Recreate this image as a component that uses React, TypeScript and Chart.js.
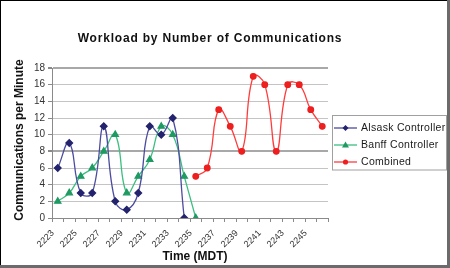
import React, { useEffect, useRef } from "react";
import { Chart, registerables } from "chart.js";

Chart.register(...registerables);

const categories = [
  "2223", "2224", "2225", "2226", "2227", "2228", "2229", "2230",
  "2231", "2232", "2233", "2234", "2235", "2236", "2237", "2238",
  "2239", "2240", "2241", "2242", "2243", "2244", "2245", "2246",
];
const alsask = [6, 9, 3, 3, 11, 2, 1, 3, 11, 10, 12, 0, null, null, null, null, null, null, null, null, null, null, null, null];
const banff = [2, 3, 5, 6, 8, 10, 3, 5, 7, 11, 10, 5, 0, null, null, null, null, null, null, null, null, null, null, null];
const combined = [null, null, null, null, null, null, null, null, null, null, null, null, 5, 6, 13, 11, 8, 17, 16, 8, 16, 16, 13, 11];
const seriesNames = ["Alsask Controller", "Banff Controller", "Combined"];
const yTicks = [0, 2, 4, 6, 8, 10, 12, 14, 16, 18];
const titleText = "Workload by Number of Communications";
const yTitle = "Communications per Minute";
const xTitle = "Time (MDT)";

const FONT = "'Liberation Sans', Arial, sans-serif";

const decorPlugin = {
  id: "decor",
  afterDraw(chart: any) {
    const ctx = chart.ctx as CanvasRenderingContext2D;
    const W = chart.width;
    const H = chart.height;
    const area = chart.chartArea;
    ctx.save();
    // frame
    ctx.fillStyle = "#000";
    ctx.fillRect(0, 0, W, 1);
    ctx.fillRect(0, 0, 1, H);
    ctx.fillStyle = "#6b6b6b";
    ctx.fillRect(W - 3, 0, 3, H);
    ctx.fillRect(0, H - 3, W, 3);

    // title
    ctx.fillStyle = "#111";
    ctx.font = `bold 12px ${FONT}`;
    (ctx as any).letterSpacing = "0.8px";
    ctx.textAlign = "center";
    ctx.textBaseline = "middle";
    ctx.fillText(titleText, 210, 39);
    (ctx as any).letterSpacing = "0px";

    // y title
    ctx.save();
    ctx.translate(20, (area.top + area.bottom) / 2 - 3);
    ctx.rotate(-Math.PI / 2);
    ctx.font = `bold 12px ${FONT}`;
    ctx.fillText(yTitle, 0, 0);
    ctx.restore();

    // x title
    ctx.font = `bold 12px ${FONT}`;
    ctx.fillText(xTitle, 195, 257);

    // legend
    const lx = 332.5, ly = 115.5, lw = 114, lh = 54.5;
    ctx.strokeStyle = "#a0a0a0";
    ctx.lineWidth = 1;
    ctx.strokeRect(lx, ly, lw, lh);
    const rows = [128, 145, 162];
    chart.data.datasets.forEach((ds: any, i: number) => {
      const y = rows[i];
      ctx.strokeStyle = ds.borderColor;
      ctx.lineWidth = 1.3;
      ctx.beginPath();
      ctx.moveTo(334, y);
      ctx.lineTo(357, y);
      ctx.stroke();
      ctx.fillStyle = ds.pointBackgroundColor;
      const cx = 345.5;
      ctx.beginPath();
      if (ds.pointStyle === "rectRot") {
        ctx.moveTo(cx, y - 3);
        ctx.lineTo(cx + 3, y);
        ctx.lineTo(cx, y + 3);
        ctx.lineTo(cx - 3, y);
      } else if (ds.pointStyle === "triangle") {
        ctx.moveTo(cx, y - 3.5);
        ctx.lineTo(cx + 3.5, y + 2.5);
        ctx.lineTo(cx - 3.5, y + 2.5);
      } else {
        ctx.arc(cx, y, 2.6, 0, Math.PI * 2);
      }
      ctx.closePath();
      ctx.fill();
      ctx.fillStyle = "#1a1a1a";
      ctx.font = `10.5px ${FONT}`;
      (ctx as any).letterSpacing = "0.3px";
      ctx.textAlign = "left";
      ctx.fillText(ds.label, 361, y + 0.5);
      (ctx as any).letterSpacing = "0px";
    });
    ctx.restore();
  },
};

export default function App() {
  const ref = useRef<HTMLCanvasElement>(null);
  useEffect(() => {
    const canvas = ref.current!;
    const chart = new Chart(canvas, {
      type: "line",
      data: {
        labels: categories,
        datasets: [
          {
            label: seriesNames[0],
            data: alsask,
            borderColor: "#4b4ba0",
            backgroundColor: "#23236e",
            pointBackgroundColor: "#23236e",
            pointBorderColor: "#23236e",
            pointStyle: "rectRot",
            pointRadius: 3.3,
            borderWidth: 1.3,
            tension: 0.45,
            spanGaps: false,
          } as any,
          {
            label: seriesNames[1],
            data: banff,
            borderColor: "#3cbf80",
            backgroundColor: "#1f9a62",
            pointBackgroundColor: "#1f9a62",
            pointBorderColor: "#1f9a62",
            pointStyle: "triangle",
            pointRadius: 3.6,
            borderWidth: 1.3,
            tension: 0.45,
            spanGaps: false,
          } as any,
          {
            label: seriesNames[2],
            data: combined,
            borderColor: "#ff3c3c",
            backgroundColor: "#ee1f1f",
            pointBackgroundColor: "#ee1f1f",
            pointBorderColor: "#ee1f1f",
            pointStyle: "circle",
            pointRadius: 2.8,
            borderWidth: 1.3,
            tension: 0.45,
            spanGaps: false,
          } as any,
        ],
      },
      options: {
        animation: false,
        responsive: false,
        devicePixelRatio: 1,
        layout: { padding: { left: 0, right: 122, top: 68, bottom: 0 } },
        plugins: {
          legend: { display: false },
          title: { display: false },
          tooltip: { enabled: false },
        },
        scales: {
          x: {
            type: "category",
            offset: true,
            afterFit(scale: any) {
              scale.height = 50;
            },
            grid: {
              display: true,
              offset: true,
              drawOnChartArea: false,
              drawTicks: true,
              tickLength: 4,
              color: "#8a8a8a",
            },
            border: { display: true, color: "#8a8a8a", width: 1 },
            ticks: {
              autoSkip: false,
              minRotation: 45,
              maxRotation: 45,
              labelOffset: -5,
              padding: 6,
              color: "#333",
              font: { family: FONT, size: 9 },
              callback(_v: any, i: number) {
                return i % 2 === 0 ? categories[i] : "";
              },
            },
          },
          y: {
            min: 0,
            max: 18,
            afterFit(scale: any) {
              scale.width = 52;
            },
            afterBuildTicks(scale: any) {
              scale.ticks = yTicks.map((v) => ({ value: v }));
            },
            grid: {
              color: (c: any) =>
                c.tick && (c.tick.value === 8 || c.tick.value === 18) ? "#a8a8a8" : "#c4c4c4",
              lineWidth: (c: any) =>
                c.tick && (c.tick.value === 8 || c.tick.value === 18) ? 2 : 1,
              tickLength: 4,
              tickColor: "#8a8a8a",
            } as any,
            border: { display: true, color: "#8a8a8a", width: 1 },
            ticks: {
              color: "#333",
              padding: 3,
              font: { family: FONT, size: 10 },
            },
          },
        },
      } as any,
      plugins: [decorPlugin],
    });
    return () => chart.destroy();
  }, []);
  return (
    <div style={{ position: "fixed", left: 0, top: 0, width: 450, height: 268, background: "#fff" }}>
      <canvas ref={ref} width={450} height={268} style={{ width: 450, height: 268, display: "block" }} />
    </div>
  );
}
